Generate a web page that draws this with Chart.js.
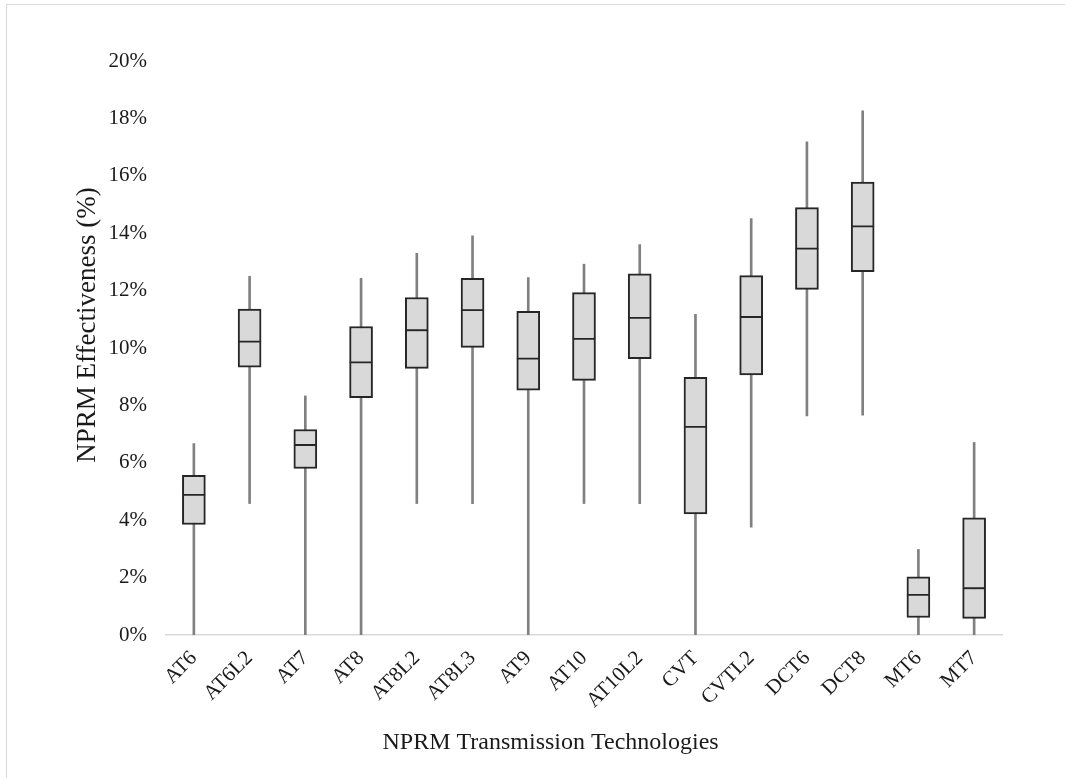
<!DOCTYPE html>
<html>
<head>
<meta charset="utf-8">
<script src="https://cdn.jsdelivr.net/npm/chart.js@4.4.1/dist/chart.umd.min.js"></script>
<style>
  html, body { margin: 0; padding: 0; background: #ffffff; }
  #wrap { position: relative; width: 1065px; height: 778px; overflow: hidden; }
  #frame { position: absolute; left: 6px; top: 4px; width: 1200px; height: 900px;
           border-left: 1px solid #d9d9d9; border-top: 1px solid #d9d9d9; }
  #c { position: absolute; left: 0; top: 0; }
</style>
</head>
<body>
<div id="wrap">
  <div id="frame"></div>
  <canvas id="c" width="1065" height="778"></canvas>
</div>
<script>
// ---- data (percent) ----
const categories = ['AT6','AT6L2','AT7','AT8','AT8L2','AT8L3','AT9','AT10','AT10L2','CVT','CVTL2','DCT6','DCT8','MT6','MT7'];
const minVals = [0, 4.58, 0, 0, 4.58, 4.58, 0, 4.58, 4.58, 0, 3.76, 7.63, 7.66, 0, 0];
const q1Vals  = [3.85, 9.33, 5.80, 8.27, 9.29, 10.02, 8.53, 8.87, 9.63, 4.22, 9.06, 12.04, 12.66, 0.61, 0.58];
const medVals = [4.88, 10.22, 6.62, 9.50, 10.62, 11.32, 9.63, 10.32, 11.05, 7.25, 11.08, 13.46, 14.24, 1.40, 1.63];
const q3Vals  = [5.56, 11.36, 7.16, 10.75, 11.76, 12.43, 11.28, 11.93, 12.58, 8.98, 12.52, 14.89, 15.78, 2.03, 4.08];
const maxVals = [6.67, 12.50, 8.33, 12.43, 13.30, 13.91, 12.45, 12.92, 13.60, 11.17, 14.51, 17.18, 18.26, 2.98, 6.71];
const yTickValues = [0, 2, 4, 6, 8, 10, 12, 14, 16, 18, 20];
const xTitle = 'NPRM Transmission Technologies';
const yTitle = 'NPRM Effectiveness (%)';

const FONT = '"Liberation Serif", "Times New Roman", serif';

const whiskerData = categories.map((c, i) => [minVals[i], maxVals[i]]);
const lowerBoxData = categories.map((c, i) => [q1Vals[i], medVals[i]]);
const upperBoxData = categories.map((c, i) => [medVals[i], q3Vals[i]]);

const titlePlugin = {
  id: 'axisTitles',
  afterDraw(chart) {
    const ctx = chart.ctx;
    const area = chart.chartArea;
    ctx.save();
    ctx.fillStyle = '#1a1a1a';
    ctx.font = '24px ' + FONT;
    ctx.textAlign = 'center';
    ctx.textBaseline = 'middle';
    ctx.fillText(xTitle, area.left + (area.right - area.left) * 0.46, area.bottom + 108);
    ctx.translate(88, area.top + (area.bottom - area.top) * 0.46);
    ctx.rotate(-Math.PI / 2);
    ctx.font = '27px ' + FONT;
    ctx.fillText(yTitle, 0, 0);
    ctx.restore();
  }
};

new Chart(document.getElementById('c'), {
  type: 'bar',
  data: {
    labels: categories,
    datasets: [
      {
        label: 'Range',
        data: whiskerData,
        backgroundColor: '#808080',
        borderWidth: 0,
        barThickness: 2,
        grouped: false,
        order: 2
      },
      {
        label: 'Lower box',
        data: lowerBoxData,
        backgroundColor: '#d9d9d9',
        borderColor: '#262626',
        borderWidth: { top: 1.25, bottom: 2, left: 2, right: 2 },
        borderSkipped: false,
        barThickness: 23,
        grouped: false,
        order: 1
      },
      {
        label: 'Upper box',
        data: upperBoxData,
        backgroundColor: '#d9d9d9',
        borderColor: '#262626',
        borderWidth: { top: 2, bottom: 1.25, left: 2, right: 2 },
        borderSkipped: false,
        barThickness: 23,
        grouped: false,
        order: 1
      }
    ]
  },
  options: {
    responsive: false,
    animation: false,
    events: [],
    layout: { padding: { left: 70, right: 63, top: 61, bottom: 0 } },
    plugins: {
      legend: { display: false },
      tooltip: { enabled: false },
      title: { display: false }
    },
    scales: {
      x: {
        grid: { display: false, drawTicks: false },
        border: { display: true, color: '#d9d9d9', width: 1.5 },
        ticks: {
          color: '#1a1a1a',
          font: { family: FONT, size: 21 },
          minRotation: 45,
          maxRotation: 45,
          autoSkip: false,
          padding: 11
        },
        afterFit(scale) { scale.height = 143; }
      },
      y: {
        min: 0,
        max: 20,
        grid: { display: false, drawTicks: false },
        border: { display: false },
        afterBuildTicks(scale) { scale.ticks = yTickValues.map(v => ({ value: v })); },
        ticks: {
          color: '#1a1a1a',
          font: { family: FONT, size: 21 },
          padding: 19,
          callback: (v) => v + '%'
        },
        afterFit(scale) { scale.width = 96; }
      }
    }
  },
  plugins: [titlePlugin]
});
</script>
</body>
</html>
